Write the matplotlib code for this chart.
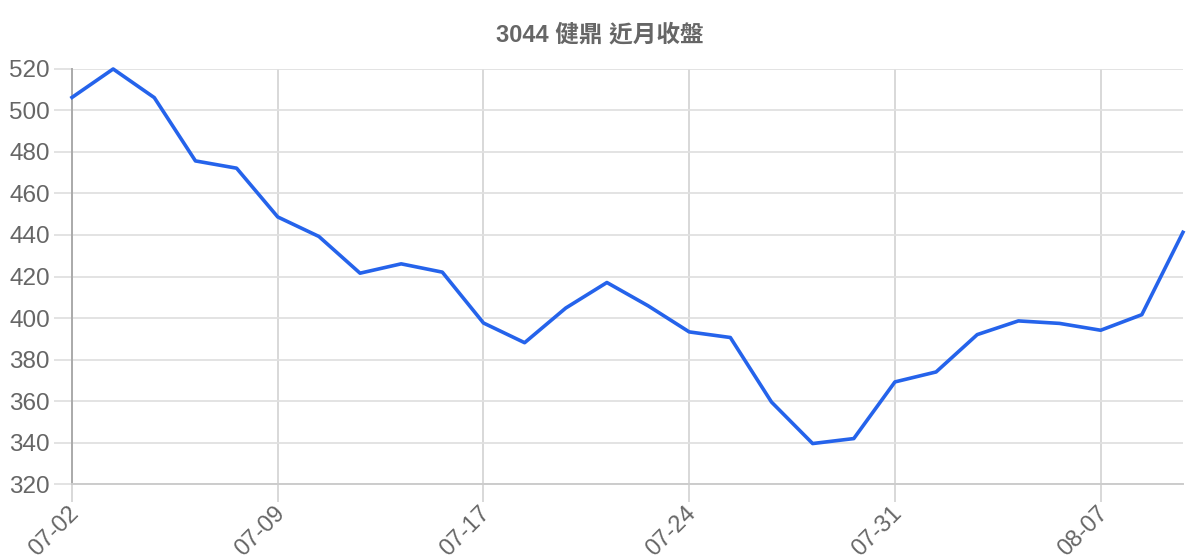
import matplotlib
matplotlib.use("Agg")
import matplotlib.pyplot as plt
import matplotlib.transforms as mtransforms

plt.rcParams['font.family'] = ['Liberation Sans', 'Noto Sans CJK TC', 'DejaVu Sans']

titulo = "3044 健鼎 近月收盤"
fechas = ["07-02", "07-03", "07-04", "07-05", "07-08", "07-09", "07-10", "07-11",
          "07-12", "07-15", "07-17", "07-18", "07-19", "07-22", "07-23", "07-24",
          "07-25", "07-26", "07-29", "07-30", "07-31", "08-01", "08-02", "08-05",
          "08-06", "08-07", "08-08", "08-09"]
cierre = [506.3, 520.0, 506.2, 475.7, 472.2, 448.7, 439.3, 421.6, 426.1, 422.1,
          397.6, 388.1, 404.8, 417.1, 405.9, 393.3, 390.6, 359.5, 339.5, 341.9,
          369.2, 374.0, 392.0, 398.6, 397.4, 394.1, 401.6, 441.3]
yticks = list(range(320, 521, 20))

gris = '#666666'
rejilla = '#e0e0e0'

fig = plt.figure(figsize=(12, 5.6), dpi=100)
ax = fig.add_axes([0.06, 0.1357, 0.9258, 0.7411])

x = list(range(len(cierre)))
ax.plot(x, cierre, color='#2563eb', lw=2.6, zorder=3, clip_on=False)

ax.set_xlim(0, len(cierre) - 1)
ax.set_ylim(320, 520)
ax.set_yticks(yticks)
ax.set_xticks(x[::5])
ax.set_xticklabels(fechas[::5], rotation=45, ha='right', va='center', rotation_mode='anchor')

ax.grid(True, axis='y', color=rejilla, lw=1.3)
ax.grid(True, axis='x', color='#d6d6d6', lw=1.3)
ax.tick_params(axis='both', length=13, width=1.3, color=rejilla, labelcolor=gris, labelsize=17.5)
ax.tick_params(axis='y', pad=3)
ax.tick_params(axis='x', pad=6, color='#d6d6d6', labelsize=17)

# desplazar un poco las fechas a la derecha, como en el original
desp = mtransforms.ScaledTranslation(2.5 / 72, 0, fig.dpi_scale_trans)
for lbl in ax.get_xticklabels():
    lbl.set_transform(lbl.get_transform() + desp)

for s in ['top', 'right']:
    ax.spines[s].set_visible(False)
ax.spines['left'].set_color('#aaaaaa')
ax.spines['left'].set_linewidth(1.4)
ax.spines['bottom'].set_color('#cccccc')
ax.spines['bottom'].set_linewidth(1.4)

fig.text(0.5, 0.9375, titulo, ha='center', va='center', fontsize=17, fontweight='bold',
         color=gris, family=['Liberation Sans', 'Noto Sans CJK TC'])

fig.savefig('out.png', dpi=100)
